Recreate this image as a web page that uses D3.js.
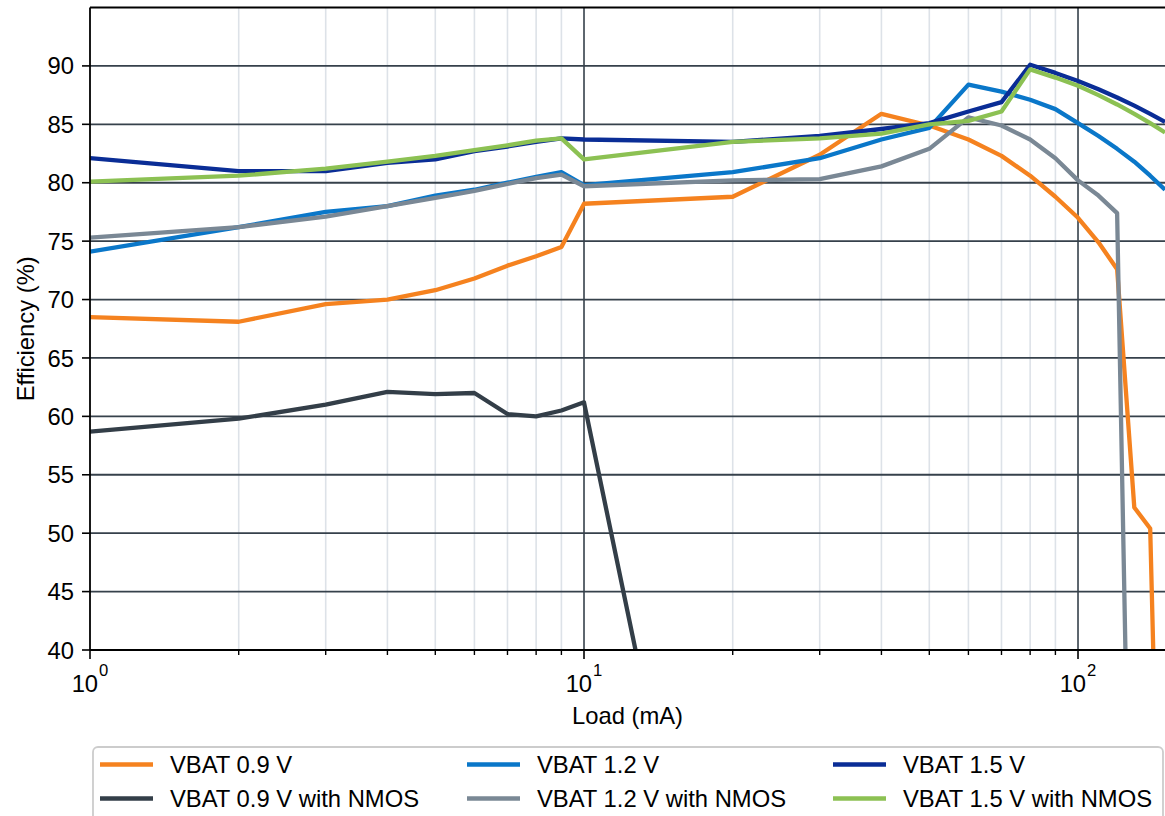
<!DOCTYPE html>
<html>
<head>
<meta charset="utf-8">
<script src="https://cdn.jsdelivr.net/npm/d3@7"></script>
<style>
  html, body { margin: 0; padding: 0; background: #ffffff; }
  svg { display: block; font-family: "Liberation Sans", Arial, Helvetica, sans-serif; }
</style>
</head>
<body>
<svg id="chart" width="1165" height="816"></svg>
<script>
// Load points (mA) and efficiency (%) per supply condition
const loadAll = [1, 2, 3, 4, 5, 6, 7, 8, 9, 10, 20, 30, 40, 50, 60, 70, 80, 90, 100, 110, 120, 130, 140, 150];

const vbat09 = [68.5, 68.1, 69.6, 70.0, 70.8, 71.8, 72.9, 73.7, 74.5, 78.2, 78.8, 82.4, 85.9, 84.9, 83.7, 82.3, 80.6, 78.8, 77.0, 74.9, 72.6, 52.2, 50.4, 0];
const vbat09Nmos = [58.7, 59.8, 61.0, 62.1, 61.9, 62.0, 60.2, 60.0, 60.5, 61.2, 0];
const vbat12 = [74.1, 76.2, 77.5, 78.0, 78.9, 79.4, 80.0, 80.5, 80.9, 79.8, 80.9, 82.1, 83.7, 84.7, 88.4, 87.8, 87.1, 86.3, 85.1, 84.0, 82.9, 81.8, 80.6, 79.4];
const vbat12Nmos = [75.3, 76.2, 77.1, 78.0, 78.7, 79.3, 79.9, 80.4, 80.7, 79.7, 80.2, 80.3, 81.4, 82.9, 85.6, 84.9, 83.7, 82.1, 80.2, 78.9, 77.4, 0];
const vbat15 = [82.1, 81.0, 81.0, 81.7, 82.0, 82.7, 83.1, 83.5, 83.8, 83.7, 83.5, 84.0, 84.6, 85.1, 86.1, 86.9, 90.1, 89.4, 88.7, 88.0, 87.3, 86.6, 85.9, 85.2];
const vbat15Nmos = [80.1, 80.6, 81.2, 81.8, 82.3, 82.8, 83.2, 83.6, 83.8, 82.0, 83.5, 83.8, 84.2, 85.0, 85.3, 86.1, 89.7, 89.0, 88.3, 87.5, 86.7, 85.9, 85.1, 84.3];

const seriesNames = ["VBAT 0.9 V", "VBAT 0.9 V with NMOS", "VBAT 1.2 V", "VBAT 1.2 V with NMOS", "VBAT 1.5 V", "VBAT 1.5 V with NMOS"];
const seriesValues = [vbat09, vbat09Nmos, vbat12, vbat12Nmos, vbat15, vbat15Nmos];
const seriesColors = ["#f5821f", "#333e48", "#0a77c9", "#7a8895", "#0a2d96", "#8cc153"];

const yTicks = [40, 45, 50, 55, 60, 65, 70, 75, 80, 85, 90];
const xMajorTicks = [1, 10, 100];
const xTickExponents = ["0", "1", "2"];
const xMinorTicks = [2, 3, 4, 5, 6, 7, 8, 9, 20, 30, 40, 50, 60, 70, 80, 90];

const xLabel = "Load (mA)";
const yLabel = "Efficiency (%)";

// Layout
const plot = { left: 90, right: 1165, top: 7.5, bottom: 650 };
const FONT = 23.8;

const svg = d3.select("#chart");

const x = d3.scaleLog().domain([1, 150]).range([plot.left, plot.right]);
const y = d3.scaleLinear().domain([40, 95]).range([plot.bottom, plot.top]);

svg.append("rect").attr("width", 1165).attr("height", 816).attr("fill", "#ffffff");

// Grid: light minor verticals, dark decade verticals, dark horizontals
const grid = svg.append("g");
grid.selectAll("line.minor").data(xMinorTicks).join("line")
  .attr("class", "minor")
  .attr("x1", d => x(d)).attr("x2", d => x(d))
  .attr("y1", plot.top).attr("y2", plot.bottom)
  .attr("stroke", "#dde2e8").attr("stroke-width", 1.6);
grid.selectAll("line.major").data(xMajorTicks.filter(d => d > 1)).join("line")
  .attr("class", "major")
  .attr("x1", d => x(d)).attr("x2", d => x(d))
  .attr("y1", plot.top).attr("y2", plot.bottom)
  .attr("stroke", "#36414b").attr("stroke-width", 1.6);
grid.selectAll("line.h").data(yTicks.filter(d => d > 40)).join("line")
  .attr("class", "h")
  .attr("x1", plot.left).attr("x2", plot.right)
  .attr("y1", d => y(d)).attr("y2", d => y(d))
  .attr("stroke", "#36414b").attr("stroke-width", 1.8);

// Clip data lines to the plotting area
svg.append("defs").append("clipPath").attr("id", "plotClip")
  .append("rect")
  .attr("x", plot.left).attr("y", plot.top)
  .attr("width", plot.right - plot.left).attr("height", plot.bottom - plot.top);

const line = d3.line().x(d => x(d[0])).y(d => y(d[1]));
const lines = svg.append("g").attr("clip-path", "url(#plotClip)");
seriesValues.forEach((vals, i) => {
  const pts = vals.map((v, k) => [loadAll[k], v]);
  lines.append("path")
    .datum(pts)
    .attr("d", line)
    .attr("fill", "none")
    .attr("stroke", seriesColors[i])
    .attr("stroke-width", 4.3)
    .attr("stroke-linejoin", "round")
    .attr("stroke-linecap", "butt");
});

// Spines
svg.append("line").attr("x1", plot.left).attr("x2", plot.left)
  .attr("y1", plot.top).attr("y2", plot.bottom)
  .attr("stroke", "#000").attr("stroke-width", 1.8);
svg.append("line").attr("x1", plot.left).attr("x2", plot.right)
  .attr("y1", plot.bottom).attr("y2", plot.bottom)
  .attr("stroke", "#000").attr("stroke-width", 1.8);
svg.append("line").attr("x1", plot.left).attr("x2", plot.right)
  .attr("y1", plot.top).attr("y2", plot.top)
  .attr("stroke", "#000").attr("stroke-width", 1.8);

// Y axis
const yAxis = svg.append("g");
yAxis.selectAll("line").data(yTicks).join("line")
  .attr("x1", plot.left - 8).attr("x2", plot.left)
  .attr("y1", d => y(d)).attr("y2", d => y(d))
  .attr("stroke", "#000").attr("stroke-width", 1.6);
yAxis.selectAll("text").data(yTicks).join("text")
  .attr("x", plot.left - 16).attr("y", d => y(d))
  .attr("dy", "0.36em")
  .attr("text-anchor", "end")
  .attr("font-size", FONT).attr("fill", "#000")
  .text(d => d);

// X axis: decade ticks with power-of-ten labels, short minor ticks
const xAxis = svg.append("g");
xAxis.selectAll("line.minor").data(xMinorTicks).join("line")
  .attr("class", "minor")
  .attr("x1", d => x(d)).attr("x2", d => x(d))
  .attr("y1", plot.bottom).attr("y2", plot.bottom + 5)
  .attr("stroke", "#000").attr("stroke-width", 1.4);
xAxis.selectAll("line.major").data(xMajorTicks).join("line")
  .attr("class", "major")
  .attr("x1", d => x(d)).attr("x2", d => x(d))
  .attr("y1", plot.bottom).attr("y2", plot.bottom + 9)
  .attr("stroke", "#000").attr("stroke-width", 1.6);
const xLabels = xAxis.selectAll("text").data(xMajorTicks).join("text")
  .attr("x", d => x(d)).attr("y", 692)
  .attr("text-anchor", "middle")
  .attr("font-size", FONT).attr("fill", "#000");
xLabels.append("tspan").text("10");
xLabels.append("tspan")
  .attr("font-size", FONT * 0.7)
  .attr("dx", 1)
  .attr("dy", -16)
  .text((d, i) => xTickExponents[i]);

// Axis titles
svg.append("text")
  .attr("x", (plot.left + plot.right) / 2).attr("y", 724)
  .attr("text-anchor", "middle")
  .attr("font-size", FONT).attr("fill", "#000")
  .text(xLabel);
svg.append("text")
  .attr("transform", `translate(34, ${(plot.top + plot.bottom) / 2}) rotate(-90)`)
  .attr("text-anchor", "middle")
  .attr("font-size", FONT).attr("fill", "#000")
  .text(yLabel);

// Legend: three columns, two rows (column-major order)
const legend = svg.append("g");
legend.append("rect")
  .attr("x", 93).attr("y", 747)
  .attr("width", 1070).attr("height", 110)
  .attr("rx", 5).attr("ry", 5)
  .attr("fill", "#ffffff").attr("fill-opacity", 0.8)
  .attr("stroke", "#cccccc").attr("stroke-width", 1.8);
const colX = [100, 467, 833];
const rowY = [764.5, 798.5];
seriesNames.forEach((name, i) => {
  const cx = colX[Math.floor(i / 2)];
  const cy = rowY[i % 2];
  legend.append("line")
    .attr("x1", cx).attr("x2", cx + 53)
    .attr("y1", cy).attr("y2", cy)
    .attr("stroke", seriesColors[i]).attr("stroke-width", 4.5);
  legend.append("text")
    .attr("x", cx + 70).attr("y", cy)
    .attr("dy", "0.36em")
    .attr("font-size", FONT).attr("fill", "#000")
    .text(name);
});
</script>
</body>
</html>
